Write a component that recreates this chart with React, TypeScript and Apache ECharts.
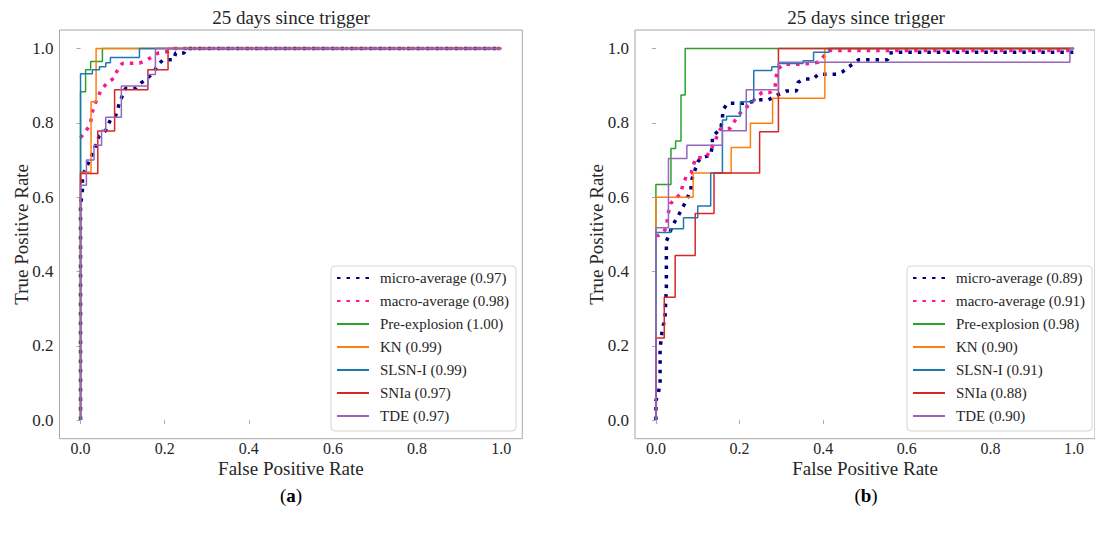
import React, { useEffect, useRef } from "react";
import * as echarts from "echarts";

// ---------- data ----------
const TITLE = "25 days since trigger";
const X_NAME = "False Positive Rate";
const Y_NAME = "True Positive Rate";
const TICKS = [0, 0.2, 0.4, 0.6, 0.8, 1.0];
const CURVE_NAMES = ["micro-average", "macro-average", "Pre-explosion", "KN", "SLSN-I", "SNIa", "TDE"];
const AUC_A = ["0.97", "0.98", "1.00", "0.99", "0.99", "0.97", "0.97"];
const AUC_B = ["0.89", "0.91", "0.98", "0.90", "0.91", "0.88", "0.90"];
const PANEL_LABELS = ["a", "b"];

// Panel (a)
const microA = [[0,0],[0,0.58],[0.004,0.61],[0.005,0.632],[0.004,0.657],[0.02,0.695],[0.032,0.727],[0.044,0.764],[0.06,0.78],[0.071,0.808],[0.083,0.818],[0.094,0.859],[0.107,0.893],[0.131,0.893],[0.143,0.907],[0.157,0.917],[0.167,0.929],[0.177,0.943],[0.185,0.958],[0.197,0.97],[0.222,0.97],[0.226,0.988],[0.246,0.988],[0.25,1.0],[1,1]];
const macroA = [[0,0.76],[0.014,0.78],[0.024,0.799],[0.026,0.821],[0.032,0.845],[0.049,0.889],[0.063,0.907],[0.079,0.92],[0.086,0.938],[0.099,0.96],[0.14,0.961],[0.159,0.97],[0.186,0.989],[0.208,0.992],[0.22,1.0],[1,1]];
const preA = [[0,0],[0,0.884],[0.012,0.884],[0.012,0.943],[0.024,0.943],[0.024,0.965],[0.052,0.965],[0.052,1],[1,1]];
const knA = [[0,0],[0,0.667],[0.025,0.667],[0.025,0.857],[0.037,0.857],[0.037,1],[1,1]];
const slsnA = [[0,0],[0,0.932],[0.028,0.932],[0.028,0.943],[0.045,0.943],[0.045,0.951],[0.06,0.951],[0.06,0.962],[0.071,0.962],[0.071,0.976],[0.14,0.976],[0.14,1],[1,1]];
const sniaA = [[0,0],[0,0.664],[0.041,0.664],[0.041,0.778],[0.081,0.778],[0.081,0.889],[0.16,0.889],[0.16,0.943],[0.208,0.943],[0.208,1],[1,1]];
const tdeA = [[0,0],[0,0.632],[0.014,0.632],[0.014,0.70],[0.032,0.70],[0.032,0.74],[0.05,0.74],[0.05,0.78],[0.06,0.78],[0.06,0.815],[0.097,0.815],[0.097,0.899],[0.16,0.899],[0.16,0.93],[0.178,0.93],[0.178,1],[1,1]];

// Panel (b)
const microB = [[0,0],[0,0.052],[0.006,0.075],[0.01,0.097],[0.01,0.196],[0.013,0.219],[0.015,0.243],[0.019,0.261],[0.022,0.281],[0.023,0.308],[0.024,0.331],[0.025,0.356],[0.025,0.482],[0.032,0.499],[0.038,0.52],[0.054,0.551],[0.069,0.583],[0.084,0.62],[0.084,0.641],[0.1,0.695],[0.107,0.706],[0.131,0.713],[0.135,0.74],[0.135,0.763],[0.155,0.785],[0.159,0.81],[0.16,0.835],[0.172,0.853],[0.21,0.853],[0.23,0.857],[0.25,0.862],[0.269,0.862],[0.29,0.875],[0.313,0.886],[0.336,0.886],[0.34,0.909],[0.354,0.918],[0.376,0.918],[0.388,0.931],[0.433,0.931],[0.447,0.938],[0.46,0.95],[0.485,0.97],[0.554,0.97],[0.558,0.988],[0.577,0.99],[1,0.99],[1,1]];
const macroB = [[0,0.497],[0.006,0.497],[0.019,0.506],[0.026,0.524],[0.028,0.55],[0.035,0.583],[0.058,0.608],[0.064,0.63],[0.072,0.655],[0.084,0.665],[0.095,0.706],[0.119,0.706],[0.131,0.727],[0.139,0.746],[0.155,0.785],[0.177,0.785],[0.19,0.808],[0.202,0.827],[0.222,0.848],[0.238,0.866],[0.254,0.882],[0.273,0.882],[0.285,0.897],[0.29,0.943],[0.305,0.958],[0.347,0.958],[0.368,0.96],[0.388,0.963],[0.401,0.979],[0.414,0.995],[0.99,0.995],[1,1]];
const preB = [[0,0],[0,0.634],[0.036,0.634],[0.036,0.731],[0.047,0.731],[0.047,0.751],[0.06,0.751],[0.06,0.875],[0.07,0.875],[0.07,1],[1,1]];
const knB = [[0,0],[0,0.6],[0.089,0.6],[0.089,0.665],[0.18,0.665],[0.18,0.734],[0.226,0.734],[0.226,0.799],[0.279,0.799],[0.279,0.866],[0.404,0.866],[0.404,1],[1,1]];
const slsnB = [[0,0],[0,0.505],[0.035,0.505],[0.035,0.515],[0.066,0.515],[0.066,0.545],[0.1,0.545],[0.1,0.576],[0.131,0.576],[0.131,0.665],[0.159,0.665],[0.159,0.808],[0.169,0.808],[0.169,0.818],[0.202,0.818],[0.202,0.857],[0.234,0.857],[0.234,0.941],[0.277,0.941],[0.277,0.951],[0.293,0.951],[0.293,0.96],[0.352,0.96],[0.352,0.967],[0.377,0.967],[0.377,0.99],[0.414,0.99],[0.414,1],[1,1]];
const sniaB = [[0,0],[0,0.221],[0.02,0.221],[0.02,0.331],[0.046,0.331],[0.046,0.443],[0.094,0.443],[0.094,0.556],[0.139,0.556],[0.139,0.665],[0.248,0.665],[0.248,0.776],[0.293,0.776],[0.293,1],[1,1]];
const tdeB = [[0,0],[0,0.518],[0.03,0.518],[0.03,0.704],[0.074,0.704],[0.074,0.74],[0.159,0.74],[0.159,0.779],[0.216,0.779],[0.216,0.889],[0.293,0.889],[0.293,0.963],[0.99,0.963],[0.99,1],[1,1]];

const PANEL_A = [microA, macroA, preA, knA, slsnA, sniaA, tdeA];
const PANEL_B = [microB, macroB, preB, knB, slsnB, sniaB, tdeB];

// ---------- styles ----------
const COLORS = ["#000080", "#ff1493", "#2ca02c", "#ff7f0e", "#1f77b4", "#d62728", "#9467bd"];
const FONT = "'Liberation Serif', 'DejaVu Serif', serif";
const FRAME = "#a8a8a8";
const TEXT = "#262626";

const GRIDS = [
  { left: 59.5, top: 30, width: 462.8, height: 408.7 },
  { left: 635, top: 30, width: 462.8, height: 408.7 },
];
const LEGEND_POS = [{ left: 331, top: 266 }, { left: 907, top: 266 }];
const CENTERS = [291, 866];

function buildOption() {
  const panels = [PANEL_A, PANEL_B];
  const aucs = [AUC_A, AUC_B];
  const series: any[] = [];
  const legends: any[] = [];
  panels.forEach((panel, p) => {
    const names: string[] = [];
    panel.forEach((data, i) => {
      const name = `${CURVE_NAMES[i]} (${aucs[p][i]})`;
      names.push(name);
      const dotted = i < 2;
      series.push({
        type: "line",
        name,
        data,
        xAxisIndex: p,
        yAxisIndex: p,
        symbol: "none",
        showSymbol: false,
        silent: true,
        clip: true,
        z: 2 + i * 0.1,
        lineStyle: {
          color: COLORS[i],
          width: dotted ? 3.5 : 1.5,
          type: dotted ? [3.5, 6] : "solid",
          cap: "butt",
        },
        itemStyle: { color: COLORS[i] },
      });
    });
    legends.push({
      data: names,
      orient: "vertical",
      left: LEGEND_POS[p].left,
      top: LEGEND_POS[p].top,
      itemWidth: 32,
      itemHeight: 14,
      itemGap: 7,
      padding: [4, 7, 7, 5],
      backgroundColor: "#fff",
      borderColor: "#d6d6d6",
      borderWidth: 1,
      borderRadius: 4,
      selectedMode: false,
      itemStyle: { opacity: 0, borderWidth: 0 },
      textStyle: { fontFamily: FONT, fontSize: 15, color: TEXT, lineHeight: 16, padding: [0, 0, 0, 6] },
    });
  });

  const axisCommon = {
    type: "value",
    min: -0.05,
    max: 1.05,
    axisLine: { show: false },
    splitLine: { show: false },
    axisTick: { show: true, customValues: TICKS, length: 4, lineStyle: { color: FRAME } },
    nameLocation: "middle",
    nameMoveOverlap: false,
    nameTextStyle: { fontFamily: FONT, fontSize: 19, color: TEXT },
  };

  const xAxis = [0, 1].map((p) => ({
    ...axisCommon,
    gridIndex: p,
    name: X_NAME,
    nameGap: 20,
    axisLabel: { customValues: TICKS, formatter: (v: number) => v.toFixed(1), fontFamily: FONT, fontSize: 16, color: TEXT, margin: 2 },
  }));
  const yAxis = [0, 1].map((p) => ({
    ...axisCommon,
    gridIndex: p,
    name: Y_NAME,
    nameGap: 29,
    axisLabel: { customValues: TICKS, formatter: (v: number) => v.toFixed(1), fontFamily: FONT, fontSize: 17, color: TEXT, margin: 6 },
  }));

  const graphic: any[] = [];
  [0, 1].forEach((p) => {
    graphic.push({
      type: "text",
      x: CENTERS[p],
      y: 17,
      silent: true,
      style: { text: TITLE, align: "center", verticalAlign: "middle", fontFamily: FONT, fontSize: 19, fill: TEXT },
    });
    graphic.push({
      type: "text",
      x: CENTERS[p],
      y: 495,
      silent: true,
      style: {
        text: `{n|(}{b|${PANEL_LABELS[p]}}{n|)}`,
        align: "center",
        verticalAlign: "middle",
        rich: {
          n: { fontFamily: FONT, fontSize: 19, color: "#000" },
          b: { fontFamily: FONT, fontSize: 19, fontWeight: "bold", color: "#000" },
        },
      },
    });
  });

  return {
    animation: false,
    backgroundColor: "#fff",
    grid: GRIDS.map((g) => ({ ...g, show: true, borderColor: FRAME, borderWidth: 1, backgroundColor: "transparent", containLabel: false })),
    xAxis,
    yAxis,
    legend: legends,
    series,
    graphic,
  };
}

export default function App() {
  const ref = useRef<HTMLDivElement>(null);
  useEffect(() => {
    if (!ref.current) return;
    const chart = echarts.init(ref.current, undefined, { renderer: "svg" });
    chart.setOption(buildOption() as any);
    return () => chart.dispose();
  }, []);
  return (
    <div
      ref={ref}
      style={{ position: "absolute", left: 0, top: 0, width: 1095, height: 536, background: "#fff" }}
    />
  );
}
